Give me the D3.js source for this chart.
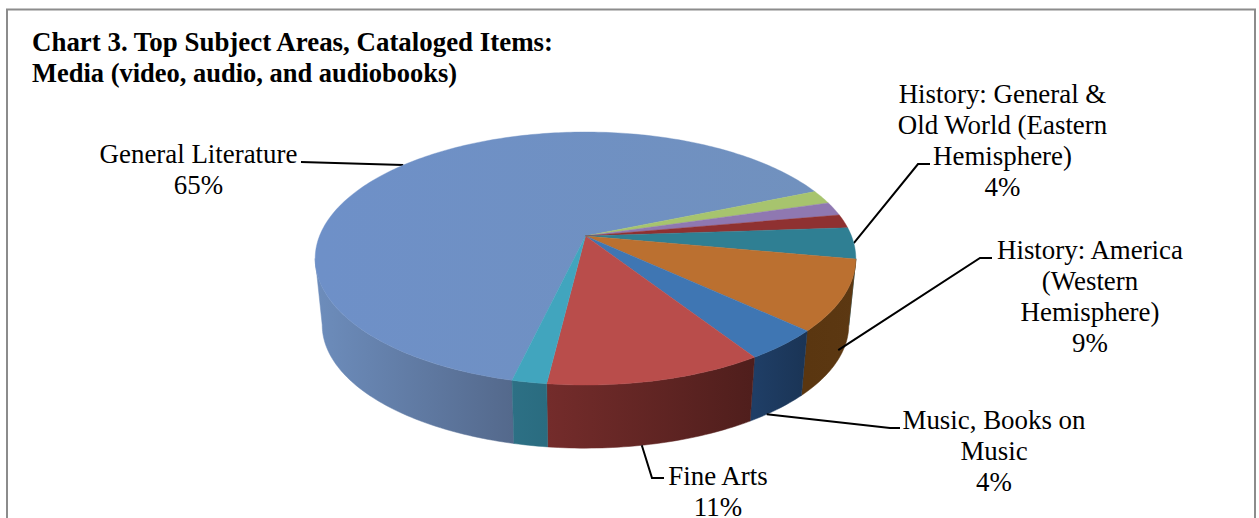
<!DOCTYPE html>
<html>
<head>
<meta charset="utf-8">
<script src="https://cdn.jsdelivr.net/npm/d3@7"></script>
<style>
html, body { margin: 0; padding: 0; background: #fff; }
svg { display: block; }
text { font-family: "Liberation Serif", "Times New Roman", serif; fill: #000; }
</style>
</head>
<body>
<svg id="chart" width="1259" height="518"></svg>
<script>
// Share of cataloged media items by subject, in clockwise slice order
const categories = [
  "General Literature", "Other A", "Other B", "Other C",
  "History: General & Old World (Eastern Hemisphere)",
  "History: America (Western Hemisphere)",
  "Music, Books on Music", "Fine Arts", "Other D"
];
const shares = [65, 1.75, 1.75, 1.75, 4, 9, 4, 11, 1.75];
const topColors = ["url(#faceMain)", "#a7c46e", "#8f78b1", "#8f3131", "#2f7f93", "#bb7030", "#3f76b3", "#b94d4b", "#41a5be"];
const sideColorsLight = ["#6d8dbc", "#7d9350", "#6a5983", "#6a2424", "#236070", "#5a3610", "#1f3e66", "#742c2b", "#2d7085"];
const sideColorsDark = ["#54698c", "#5f6f3d", "#544668", "#521c1c", "#1b4a56", "#5c3812", "#1a3455", "#4f1e1c", "#2a6c80"];
const titleLines = ["Chart 3. Top Subject Areas, Cataloged Items:", "Media (video, audio, and audiobooks)"];
const calloutLines = [
  ["General Literature", "65%"],
  ["History: General &", "Old World (Eastern", "Hemisphere)", "4%"],
  ["History: America", "(Western", "Hemisphere)", "9%"],
  ["Music, Books on", "Music", "4%"],
  ["Fine Arts", "11%"]
];
const calloutSlices = [0, 4, 5, 6, 7];

// Placement of callout text and the elbows of their leader lines
const calloutLayout = [
  { x: 198.5, y: 163, along: 0.5, rimDrop: 0, knee: [[301, 162]] },
  { x: 1002.5, y: 103, along: 0.5, rimDrop: 0, knee: [[918, 164], [930, 164]] },
  { x: 1090, y: 258.5, along: 0.5, rimDrop: 0.83, knee: [[980, 258], [992, 258]] },
  { x: 994, y: 429, along: 0.71, rimDrop: 1, knee: [[890, 428], [900, 428]] },
  { x: 718, y: 484.5, along: 0.565, rimDrop: 1, knee: [[652, 478], [664, 478]] }
];
const labelStep = 31;

const svg = d3.select("#chart");

// Perspective projection of the unit disc: v points towards the viewer
const cx = 585.5, cyTop = 236, cyBottom = 303;
const rx = 266, ry = 122.5, persp = 0.178, bottomScale = 0.974;
function project(angle, level) {
  const u = Math.sin(angle), v = -Math.cos(angle);
  const w = 1 - persp * v;
  const s = level === "top" ? 1 : bottomScale;
  const cy = level === "top" ? cyTop : cyBottom;
  return [cx + s * rx * u / w, cy + s * ry * v / w];
}
const lineGen = d3.line();

const startAngle = 193.2 * Math.PI / 180;
const arcs = d3.pie().sort(null)
  .startAngle(startAngle)
  .endAngle(startAngle + 2 * Math.PI)(shares);

function arcAngles(a0, a1) {
  const n = Math.max(2, Math.ceil((a1 - a0) / (Math.PI / 180)));
  return d3.range(n + 1).map(i => a0 + (a1 - a0) * i / n);
}

// The wall is only visible between the two points where the rim is widest
const wallFrom = Math.PI / 2 + Math.asin(persp);
const wallTo = 3 * Math.PI / 2 - Math.asin(persp);

// Frame: top, left and right edges only, it runs off the bottom
svg.append("path")
  .attr("d", "M7,518V9.5H1255V518")
  .attr("fill", "none").attr("stroke", "#8c8c8c").attr("stroke-width", 2);

const defs = svg.append("defs");
const faceMain = defs.append("linearGradient").attr("id", "faceMain")
  .attr("gradientUnits", "userSpaceOnUse")
  .attr("x1", cx - rx).attr("x2", cx + rx).attr("y1", 0).attr("y2", 0);
faceMain.append("stop").attr("offset", 0).attr("stop-color", "#6e90c8");
faceMain.append("stop").attr("offset", 1).attr("stop-color", "#7191bd");

// Side wall, one band per slice, shaded from left to right
const side = svg.append("g");
arcs.forEach((d, i) => {
  // Slices past the first wrap are compared one full turn back
  const turn = d.startAngle >= 2 * Math.PI ? 2 * Math.PI : 0;
  const a0 = Math.max(d.startAngle - turn, wallFrom), a1 = Math.min(d.endAngle - turn, wallTo);
  if (a1 <= a0) return;
  const pts = arcAngles(a0, a1);
  const id = "side" + i;
  const topEdge = pts.map(a => project(a, "top"));
  const bottomEdge = pts.map(a => project(a, "bottom")).reverse();
  const xs = topEdge.map(p => p[0]);
  const lg = defs.append("linearGradient").attr("id", id)
    .attr("gradientUnits", "userSpaceOnUse")
    .attr("x1", d3.min(xs)).attr("x2", d3.max(xs)).attr("y1", 0).attr("y2", 0);
  lg.append("stop").attr("offset", 0).attr("stop-color", sideColorsLight[i]);
  lg.append("stop").attr("offset", 1).attr("stop-color", sideColorsDark[i]);
  side.append("path")
    .attr("d", lineGen(topEdge.concat(bottomEdge)) + "Z")
    .attr("fill", `url(#${id})`)
    .attr("stroke", `url(#${id})`).attr("stroke-width", 0.5);
});

// Leader lines run underneath the pie so they end on its rim
const leaders = svg.append("g");
calloutLayout.forEach((c, i) => {
  const d = arcs[calloutSlices[i]];
  const a = d.startAngle + (d.endAngle - d.startAngle) * c.along;
  const t = project(a, "top"), b = project(a, "bottom");
  const anchor = [t[0] + (b[0] - t[0]) * c.rimDrop, t[1] + (b[1] - t[1]) * c.rimDrop];
  leaders.append("path")
    .attr("d", lineGen([anchor, ...c.knee]))
    .attr("fill", "none").attr("stroke", "#000").attr("stroke-width", 2);
});

// Top face
const face = svg.append("g");
arcs.forEach((d, i) => {
  const pts = arcAngles(d.startAngle, d.endAngle).map(a => project(a, "top"));
  face.append("path")
    .attr("d", lineGen([[cx, cyTop], ...pts]) + "Z")
    .attr("fill", topColors[i])
    .attr("stroke", topColors[i]).attr("stroke-width", 0.4);
});

// Title
svg.append("g").selectAll("text").data(titleLines).join("text")
  .attr("x", 32).attr("y", (d, i) => 51 + i * 31)
  .attr("font-size", 26.9).attr("font-weight", "bold")
  .attr("textLength", (d, i) => i === 0 ? 521 : 425)
  .attr("lengthAdjust", "spacingAndGlyphs")
  .text(d => d);

// Callout labels
calloutLayout.forEach((c, i) => {
  svg.append("g").selectAll("text").data(calloutLines[i]).join("text")
    .attr("x", c.x).attr("y", (d, k) => c.y + k * labelStep)
    .attr("text-anchor", "middle")
    .attr("font-size", 26.9)
    .text(d => d);
});
</script>
</body>
</html>
